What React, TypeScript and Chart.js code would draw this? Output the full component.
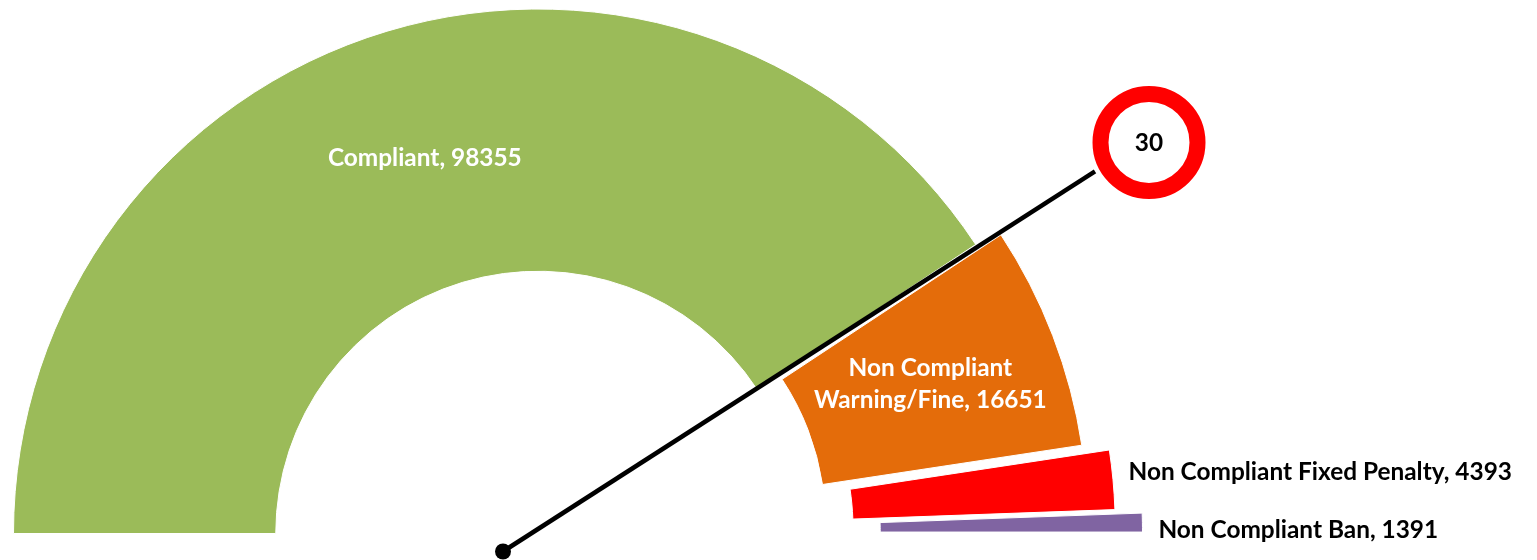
import React, { useEffect, useRef } from "react";
import { Chart, registerables, DoughnutController, ArcElement } from "chart.js";

const categories = ["Compliant", "Non Compliant Warning/Fine", "Non Compliant Fixed Penalty", "Non Compliant Ban"];
const values = [98355, 16651, 4393, 1391];
const sliceColors = ["#9BBB59", "#E46C0A", "#FF0000", "#8064A2"];
const sliceExplode = [0, 27, 53, 80];
const labelLines = [["Compliant, 98355"], ["Non Compliant", "Warning/Fine, 16651"], ["Non Compliant Fixed Penalty, 4393"], ["Non Compliant Ban, 1391"]];
const gaugeReading = "30";

const FONT = 'bold 24.4px Lato, "Noto Sans", sans-serif';

class ExplodedArc extends ArcElement {
  static id = "explodedArc";
  draw(ctx: CanvasRenderingContext2D) {
    const self = this as any;
    const explode = self.explode || 0;
    const mid = (self.startAngle + self.endAngle) / 2;
    ctx.save();
    ctx.translate(Math.cos(mid) * explode, Math.sin(mid) * explode);
    super.draw(ctx);
    ctx.restore();
  }
}

class GaugeController extends DoughnutController {
  static id = "gauge";
  static defaults = { ...DoughnutController.defaults, dataElementType: "explodedArc" };
  updateElements(arcs: any[], start: number, count: number, mode: any) {
    super.updateElements(arcs, start, count, mode);
    arcs.forEach((arc, i) => {
      arc.explode = sliceExplode[i] || 0;
    });
  }
}

Chart.register(...registerables, ExplodedArc, GaugeController);

const gaugeOverlay = {
  id: "gaugeOverlay",
  afterDraw(chart: any) {
    const ctx: CanvasRenderingContext2D = chart.ctx;
    const arcs = chart.getDatasetMeta(0).data;
    const cx = arcs[0].x;
    const cy = arcs[0].y;

    ctx.save();
    ctx.font = FONT;
    ctx.textBaseline = "middle";
    arcs.forEach((arc: any, i: number) => {
      const mid = (arc.startAngle + arc.endAngle) / 2;
      const ex = arc.explode || 0;
      const ox = arc.x + Math.cos(mid) * ex;
      const oy = arc.y + Math.sin(mid) * ex;
      const lines = labelLines[i];
      if (i < 2) {
        const c = arc.getCenterPoint();
        const px = c.x + Math.cos(mid) * ex;
        const py = c.y + Math.sin(mid) * ex;
        ctx.fillStyle = "#FFFFFF";
        ctx.textAlign = "center";
        lines.forEach((l, k) => ctx.fillText(l, px, py + 1.5 + (k - (lines.length - 1) / 2) * 32.5));
      } else {
        const px = ox + Math.cos(mid) * arc.outerRadius;
        const py = oy + Math.sin(mid) * arc.outerRadius;
        ctx.fillStyle = "#000000";
        ctx.textAlign = "left";
        ctx.fillText(lines[0], px + (i === 2 ? 15.5 : 16), py + (i === 2 ? -7.5 : 7.5));
      }
    });

    const px = cx - 35;
    const py = cy + 18;
    const needleA = (32.7 * Math.PI) / 180;
    const ringA = (32.34 * Math.PI) / 180;
    ctx.strokeStyle = "#000000";
    ctx.lineWidth = 4.5;
    ctx.beginPath();
    ctx.moveTo(px, py);
    ctx.lineTo(px + Math.cos(needleA) * 703.5, py - Math.sin(needleA) * 703.5);
    ctx.stroke();
    ctx.fillStyle = "#000000";
    ctx.beginPath();
    ctx.arc(px, py, 8, 0, Math.PI * 2);
    ctx.fill();

    const rx = px + Math.cos(ringA) * 764.6;
    const ry = py - Math.sin(ringA) * 764.6;
    ctx.strokeStyle = "#FF0000";
    ctx.lineWidth = 16;
    ctx.beginPath();
    ctx.arc(rx, ry, 48.5, 0, Math.PI * 2);
    ctx.stroke();
    ctx.fillStyle = "#000000";
    ctx.textAlign = "center";
    ctx.fillText(gaugeReading, rx, ry + 1);
    ctx.restore();
  },
};

export default function App() {
  const ref = useRef<HTMLCanvasElement>(null);
  useEffect(() => {
    const chart = new Chart(ref.current as HTMLCanvasElement, {
      type: "gauge" as any,
      data: {
        labels: categories,
        datasets: [{ data: values, backgroundColor: sliceColors, borderColor: "#FFFFFF", borderWidth: 1 }],
      },
      options: {
        animation: false,
        responsive: false,
        rotation: -90,
        circumference: 180,
        radius: 524.5,
        cutout: "50%",
        layout: { padding: { left: 0, right: 461, top: 0, bottom: 17.5 } },
        plugins: { legend: { display: false }, tooltip: { enabled: false } },
      } as any,
      plugins: [gaugeOverlay],
    });
    return () => chart.destroy();
  }, []);
  return (
    <canvas
      ref={ref}
      width={1537}
      height={560}
      style={{ position: "absolute", left: 0, top: 0, width: 1537, height: 560, background: "#fff" }}
    />
  );
}
